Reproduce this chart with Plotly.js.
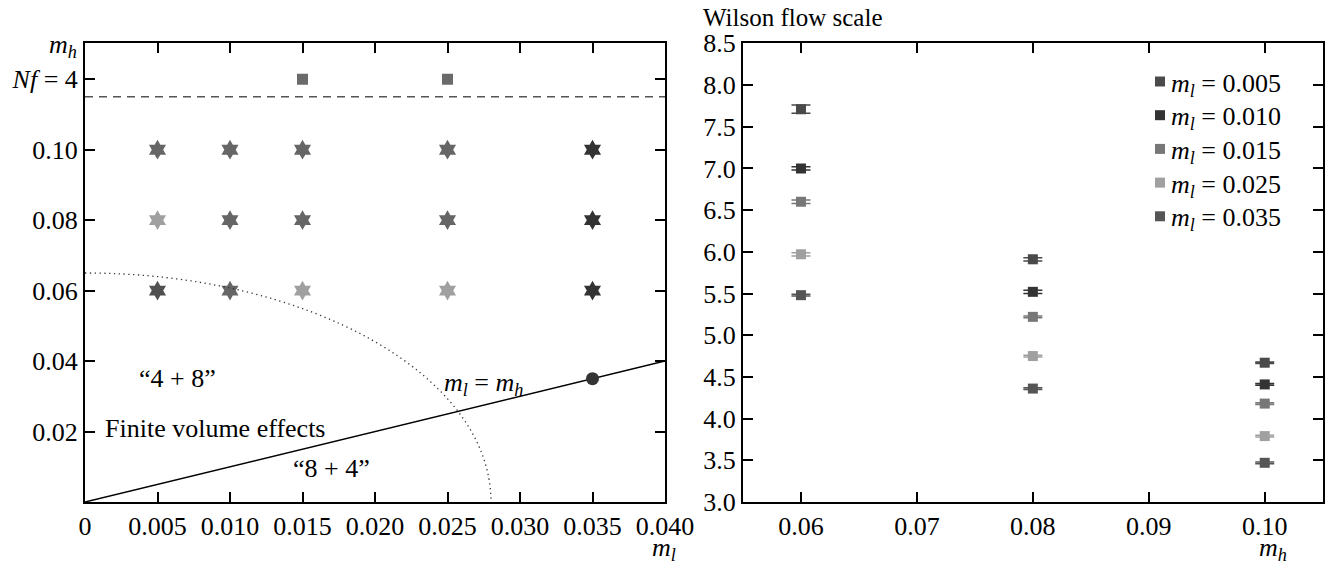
<!DOCTYPE html>
<html>
<head>
<meta charset="utf-8">
<script src="https://cdn.plot.ly/plotly-3.0.1.min.js"></script>
<style>html,body{margin:0;padding:0;background:#fff;}#chart{width:1331px;height:570px;}</style>
</head>
<body>
<div id="chart"></div>
<script>
// ---------- Left panel data ----------
const gridMl = [0.005, 0.010, 0.015, 0.025, 0.035];
// stars grouped by shade
const starsMidX  = [0.005, 0.010, 0.010, 0.010, 0.015, 0.015, 0.025, 0.025];
const starsMidY  = [0.10,  0.10,  0.08,  0.06,  0.10,  0.08,  0.10,  0.08];
const starsLightX = [0.005, 0.015, 0.025];
const starsLightY = [0.08,  0.06,  0.06];
const starsDarkX = [0.005];
const starsDarkY = [0.06];
const starsDarkestX = [0.035, 0.035, 0.035];
const starsDarkestY = [0.10,  0.08,  0.06];
const nf4X = [0.015, 0.025];
const nf4Y = [0.12, 0.12];
const equalPointX = [0.035];
const equalPointY = [0.035];
const diagX = [0, 0.040];
const diagY = [0, 0.040];
const nf4Boundary = 0.115;
const arcMl = 0.028;   // finite volume boundary on m_l axis
const arcMh = 0.065;   // finite volume boundary on m_h axis
const leftXTickVals = [0, 0.005, 0.010, 0.015, 0.020, 0.025, 0.030, 0.035, 0.040];
const leftXTickText = ['0', '0.005', '0.010', '0.015', '0.020', '0.025', '0.030', '0.035', '0.040'];
const leftYTickVals = [0.02, 0.04, 0.06, 0.08, 0.10, 0.12];
const leftYTickText = ['0.02', '0.04', '0.06', '0.08', '0.10', '<i>Nf</i> = 4'];

// ---------- Right panel data ----------
const mhValues = [0.06, 0.08, 0.10];
const seriesNames = ['0.005', '0.010', '0.015', '0.025', '0.035'];
const w005 = [7.71, 5.91, 4.67];
const w010 = [7.00, 5.52, 4.41];
const w015 = [6.60, 5.22, 4.18];
const w025 = [5.97, 4.75, 3.79];
const w035 = [5.48, 4.36, 3.47];
const e005 = [0.05, 0.02, 0.01];
const e010 = [0.02, 0.02, 0.01];
const e015 = [0.02, 0.01, 0.01];
const e025 = [0.02, 0.01, 0.01];
const e035 = [0.01, 0.01, 0.01];
const rightXTickVals = [0.06, 0.07, 0.08, 0.09, 0.10];
const rightXTickText = ['0.06', '0.07', '0.08', '0.09', '0.10'];

// ---------- styling ----------
const FONT = 'Liberation Serif';
const FS = 26;
const seriesColors = ['#4a4a4a', '#333333', '#777777', '#a0a0a0', '#555555'];
const seriesVals = [w005, w010, w015, w025, w035];
const seriesErrs = [e005, e010, e015, e025, e035];

const W = 1331, H = 570;
const px = v => v / W;
const py = v => 1 - v / H;

const traces = [];
function stars(x, y, color) {
  traces.push({type: 'scatter', mode: 'markers', x: x, y: y, xaxis: 'x', yaxis: 'y', showlegend: false,
    marker: {symbol: 'hexagram', size: 15, color: color, line: {width: 0}}, hoverinfo: 'skip'});
}
traces.push({type: 'scatter', mode: 'lines', x: diagX, y: diagY, xaxis: 'x', yaxis: 'y', showlegend: false,
  line: {color: '#000', width: 1.5}, hoverinfo: 'skip'});
stars(starsMidX, starsMidY, '#666666');
stars(starsLightX, starsLightY, '#a0a0a0');
stars(starsDarkX, starsDarkY, '#505050');
stars(starsDarkestX, starsDarkestY, '#333333');
traces.push({type: 'scatter', mode: 'markers', x: nf4X, y: nf4Y, xaxis: 'x', yaxis: 'y', showlegend: false,
  marker: {symbol: 'square', size: 11, color: '#6a6a6a'}, hoverinfo: 'skip'});
traces.push({type: 'scatter', mode: 'markers', x: equalPointX, y: equalPointY, xaxis: 'x', yaxis: 'y', showlegend: false,
  marker: {symbol: 'circle', size: 13, color: '#333333'}, hoverinfo: 'skip'});

for (let i = 0; i < seriesNames.length; i++) {
  traces.push({type: 'scatter', mode: 'markers', x: mhValues, y: seriesVals[i], xaxis: 'x2', yaxis: 'y2',
    name: 'm_l = ' + seriesNames[i], showlegend: false,
    marker: {symbol: 'square', size: 10, color: seriesColors[i]},
    error_y: {type: 'data', array: seriesErrs[i], color: seriesColors[i], thickness: 1.5, width: 9.5}});
}

const axisCommon = {
  showline: true, linecolor: '#000', linewidth: 2, mirror: 'ticks',
  ticks: 'inside', ticklen: 10, tickwidth: 2, tickcolor: '#000',
  showgrid: false, zeroline: false, tickmode: 'array',
  tickfont: {family: FONT, size: FS, color: '#000'}
};
const yDom = [1 - 502 / H, 1 - 43.3 / H];
const k = 0.5523;

// hand-placed legend (swatches + labels)
const legendShapes = [];
const legendAnns = [];
const legTop = 81.5, legStep = 33.7;
for (let i = 0; i < seriesNames.length; i++) {
  const cy = legTop + i * legStep;
  legendShapes.push({type: 'rect', xref: 'paper', yref: 'paper', x0: px(1155), x1: px(1165),
    y0: py(cy + 5), y1: py(cy - 5), fillcolor: seriesColors[i], line: {width: 0}});
  legendAnns.push({xref: 'paper', yref: 'paper', x: px(1169), y: py(cy + 3), xanchor: 'left', yanchor: 'middle',
    showarrow: false, text: '<i>m</i><sub><i>l</i></sub> = ' + seriesNames[i]});
}

const layout = {
  width: W, height: H,
  margin: {l: 0, r: 0, t: 0, b: 0},
  paper_bgcolor: '#fff', plot_bgcolor: '#fff',
  font: {family: FONT, size: FS, color: '#000'},
  title: {text: 'Wilson flow scale', x: px(703), xanchor: 'left', y: py(17), yanchor: 'middle',
    font: {family: FONT, size: 25, color: '#000'}},
  xaxis: Object.assign({}, axisCommon, {domain: [px(85), px(665)], range: [0, 0.040], anchor: 'y',
    tickvals: leftXTickVals, ticktext: leftXTickText}),
  yaxis: Object.assign({}, axisCommon, {domain: yDom, range: [0, 0.1302], anchor: 'x',
    tickvals: leftYTickVals, ticktext: leftYTickText}),
  xaxis2: Object.assign({}, axisCommon, {domain: [px(743), px(1322.7)], range: [0.055, 0.105], anchor: 'y2',
    tickvals: rightXTickVals, ticktext: rightXTickText}),
  yaxis2: Object.assign({}, axisCommon, {domain: yDom, range: [3.0, 8.5], anchor: 'x2',
    tickmode: 'linear', tick0: 3.0, dtick: 0.5, tickformat: '.1f'}),
  showlegend: false,
  shapes: [
    {type: 'line', xref: 'x domain', yref: 'y', x0: 0, x1: 1, y0: nf4Boundary, y1: nf4Boundary,
      line: {color: '#555', width: 1.5, dash: '8px,6px'}},
    {type: 'path', xref: 'x', yref: 'y',
      path: 'M 0,' + arcMh + ' C ' + (arcMl * k) + ',' + arcMh + ' ' + arcMl + ',' + (arcMh * k) + ' ' + arcMl + ',0',
      line: {color: '#333', width: 1.3, dash: '1.3px,3.5px'}}
  ].concat(legendShapes),
  annotations: [
    {xref: 'paper', yref: 'paper', x: px(79), y: py(46), xanchor: 'right', yanchor: 'middle', showarrow: false,
      text: '<i>m</i><sub><i>h</i></sub>'},
    {xref: 'paper', yref: 'paper', x: px(664), y: py(549), xanchor: 'center', yanchor: 'middle', showarrow: false,
      text: '<i>m</i><sub><i>l</i></sub>'},
    {xref: 'paper', yref: 'paper', x: px(1273), y: py(549), xanchor: 'center', yanchor: 'middle', showarrow: false,
      text: '<i>m</i><sub><i>h</i></sub>'},
    {xref: 'x', yref: 'y', x: 0.0064, y: 0.035, xanchor: 'center', yanchor: 'middle', showarrow: false,
      text: '\u201C4 + 8\u201D'},
    {xref: 'x', yref: 'y', x: 0.00125, y: 0.021, xanchor: 'left', yanchor: 'middle', showarrow: false,
      text: 'Finite volume effects'},
    {xref: 'x', yref: 'y', x: 0.01697, y: 0.0096, xanchor: 'center', yanchor: 'middle', showarrow: false,
      text: '\u201C8 + 4\u201D'},
    {xref: 'x', yref: 'y', x: 0.0275, y: 0.0335, xanchor: 'center', yanchor: 'middle', showarrow: false,
      text: '<i>m</i><sub><i>l</i></sub> = <i>m</i><sub><i>h</i></sub>'}
  ].concat(legendAnns)
};

Plotly.newPlot('chart', traces, layout, {displayModeBar: false, staticPlot: true});
</script>
</body>
</html>
